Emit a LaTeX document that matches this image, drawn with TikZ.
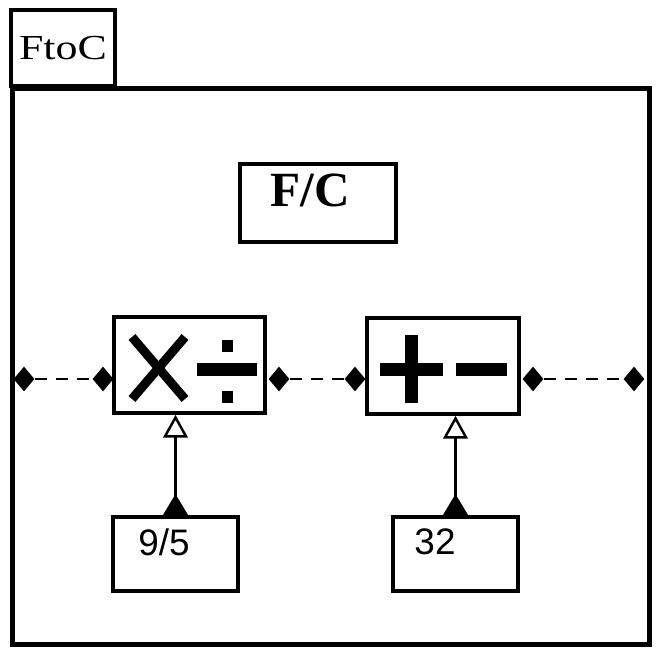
\documentclass[tikz,border=0pt]{standalone}
\usepackage{fontspec}
\setmainfont{Liberation Serif}
\newfontfamily\lsans{Liberation Sans}
\usetikzlibrary{shapes.geometric,arrows.meta}
\begin{document}
\begin{tikzpicture}[x=0.02cm,y=-0.02cm,
  frame/.style={draw, line width=2.8pt, rectangle, inner sep=0pt},
  box/.style={draw, line width=2.1pt, rectangle, inner sep=0pt},
  dia/.style={diamond, fill=black, inner sep=0pt, minimum width=0.42cm, minimum height=0.5cm},
  dashline/.style={line width=1.6pt, dash pattern=on 7pt off 5pt},
  link/.style={line width=1.5pt, {Triangle[reversed,length=12pt,width=14pt]}-{Triangle[open,length=13pt,width=14pt,line width=1.4pt]}},
  icon/.style={fill=black, draw=none}
]
\useasboundingbox (0,0) rectangle (662,658);
% outer frame and tab
\node[frame, minimum width=12.76cm, minimum height=11.14cm] (frm) at (331,366.5) {};
\node[frame, minimum width=2.08cm, minimum height=1.52cm, font=\fontsize{20}{20}\selectfont] (tab) at (63,48) {\scalebox{1.25}[1]{FtoC}};
% F/C box
\node[box, minimum width=3.12cm, minimum height=1.56cm] (fc) at (318,203) {};
\node[font=\bfseries\fontsize{28}{28}\selectfont] (fct) at (310,190) {F/C};
% operator boxes
\node[box, minimum width=3.02cm, minimum height=1.92cm] (mul) at (189.5,365) {};
\node[box, minimum width=3.04cm, minimum height=1.92cm] (add) at (443,366) {};
% constant boxes
\node[box, minimum width=2.5cm, minimum height=1.48cm] (c95) at (175.5,554) {};
\node[font=\lsans\fontsize{21}{21}\selectfont] (t95) at (164,542) {9/5};
\node[box, minimum width=2.5cm, minimum height=1.48cm] (c32) at (455.5,554) {};
\node[font=\lsans\fontsize{21}{21}\selectfont] (t32) at (435,542) {32};
% diamonds
\node[dia] (d1) at (24,379) {};
\node[dia] (d2) at (103,379) {};
\node[dia] (d3) at (279,379) {};
\node[dia] (d4) at (355,379) {};
\node[dia] (d5) at (533,379) {};
\node[dia] (d6) at (634,379) {};
\draw[dashline] (d1) -- (d2);
\draw[dashline] (d3) -- (d4);
\draw[dashline] (d5) -- (d6);
% links from constants
\draw[link] (c95.north) -- (c95.north |- mul.south);
\draw[link] (c32.north) -- (c32.north |- add.south);
% icons: times / divide
\draw[line width=5.1pt] (132,337) -- (185,399) (132,399) -- (185,337);
\fill[icon] (197,363) rectangle (257,376);
\fill[icon] (222,340) rectangle (233,352);
\fill[icon] (222,391) rectangle (233,403);
% icons: plus / minus
\fill[icon] (405,335) rectangle (418,403);
\fill[icon] (380,363) rectangle (443,376);
\fill[icon] (456,363) rectangle (507,376);
\end{tikzpicture}
\end{document}
